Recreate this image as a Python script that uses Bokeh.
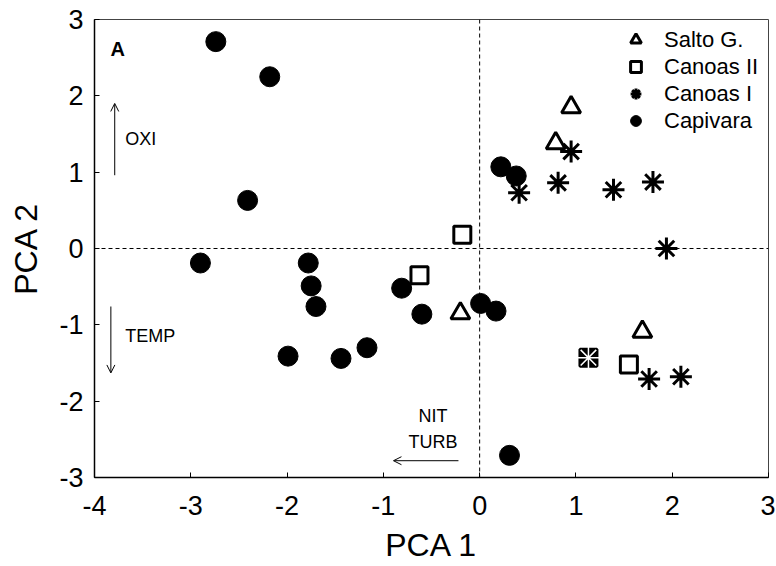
from bokeh.plotting import figure
from bokeh.models import (Range1d, Span, Label, Arrow, OpenHead, Legend, LegendItem,
                          ColumnDataSource)
from bokeh.embed import file_html
from bokeh.resources import INLINE

# ---- data ----
salto_x = [0.95, 0.79, -0.20, 1.69]
salto_y = [1.85, 1.38, -0.85, -1.09]

canoas2_x = [-0.18, -0.625, 1.13, 1.55]
canoas2_y = [0.18, -0.35, -1.43, -1.52]

canoas1_x = [0.95, 0.815, 0.41, 1.39, 1.80, 1.94, 1.13, 1.76, 2.09]
canoas1_y = [1.27, 0.86, 0.73, 0.77, 0.87, 0.00, -1.43, -1.71, -1.68]

capivara_x = [-2.74, -2.18, -2.41, -2.90, -1.78, -1.75, -1.70, -1.99, -1.44,
              -1.17, -0.81, -0.60, 0.01, 0.17, 0.22, 0.38, 0.31]
capivara_y = [2.71, 2.25, 0.63, -0.19, -0.19, -0.49, -0.76, -1.41, -1.44,
              -1.30, -0.52, -0.86, -0.72, -0.82, 1.07, 0.95, -2.71]

x_ticks = [-4, -3, -2, -1, 0, 1, 2, 3]
y_ticks = [-3, -2, -1, 0, 1, 2, 3]

# ---- styles ----
FONT = "Liberation Sans"
# the coincident Canoas II / Canoas I point is drawn inverted (black square, thin white star)
special = [i for i in range(len(canoas2_x)) if canoas2_x[i] == 1.13]
canoas2_fill = ["black" if i in special else "white" for i in range(len(canoas2_x))]
special1 = [i for i in range(len(canoas1_x)) if canoas1_x[i] == 1.13]
canoas1_line = ["white" if i in special1 else "black" for i in range(len(canoas1_x))]
canoas1_lw = [1.5 if i in special1 else 3 for i in range(len(canoas1_x))]

p = figure(width=775, height=565, x_range=Range1d(-4, 3), y_range=Range1d(-3, 3),
           output_backend="svg", toolbar_location=None,
           min_border_left=94, min_border_right=7, min_border_top=19, min_border_bottom=87)

p.xgrid.visible = False
p.ygrid.visible = False
p.outline_line_color = "#444444"
p.outline_line_width = 1
p.background_fill_color = "white"
p.border_fill_color = "white"

for ax in (p.xaxis, p.yaxis):
    ax.major_tick_in = 5
    ax.major_tick_out = 0
    ax.minor_tick_in = 0
    ax.minor_tick_out = 0
    ax.axis_line_color = "black"
    ax.axis_line_width = 1.5
    ax.major_tick_line_color = "black"
    ax.major_label_text_font = FONT
    ax.major_label_text_font_size = "27px"
    ax.major_label_text_color = "black"
    ax.axis_label_text_font = FONT
    ax.axis_label_text_font_size = "32px"
    ax.axis_label_text_font_style = "normal"
    ax.axis_label_text_color = "black"

p.xaxis.ticker = x_ticks
p.yaxis.ticker = y_ticks
p.xaxis.major_label_overrides = {t: str(t) for t in x_ticks}
p.yaxis.major_label_overrides = {t: str(t) for t in y_ticks}
p.xaxis.axis_label = "PCA 1"
p.yaxis.axis_label = "PCA 2"
p.xaxis.major_label_standoff = 18
p.yaxis.major_label_standoff = 11
p.xaxis.axis_label_standoff = 9
p.yaxis.axis_label_standoff = 12

p.add_layout(Span(location=0, dimension="height", line_color="black", line_width=1, line_dash="4 3"))
p.add_layout(Span(location=0, dimension="width", line_color="black", line_width=1, line_dash="4 3"))

r_cap = p.scatter(capivara_x, capivara_y, marker="circle", size=20,
                  fill_color="black", line_color="black")
r_salto = p.scatter(salto_x, salto_y, marker="triangle", size=19,
                    fill_color=None, line_color="black", line_width=3)
src2 = ColumnDataSource(dict(x=canoas2_x, y=canoas2_y, fill=canoas2_fill))
r_c2 = p.scatter("x", "y", source=src2, marker="square", size=17,
                 fill_color="fill", line_color="black", line_width=3)
src1 = ColumnDataSource(dict(x=canoas1_x, y=canoas1_y, lc=canoas1_line, lw=canoas1_lw))
r_c1 = p.scatter("x", "y", source=src1, marker="asterisk", size=22,
                 line_color="lc", line_width="lw")

legend = Legend(items=[
    LegendItem(label="Salto G.", renderers=[r_salto]),
    LegendItem(label="Canoas II", renderers=[r_c2]),
    LegendItem(label="Canoas I", renderers=[r_c1]),
    LegendItem(label="Capivara", renderers=[r_cap]),
], location="top_right")
legend.border_line_color = None
legend.background_fill_alpha = 0
legend.label_text_font = FONT
legend.label_text_font_size = "22px"
legend.label_text_color = "black"
legend.glyph_width = 27
legend.glyph_height = 27
legend.label_height = 27
legend.label_width = 97
legend.label_standoff = 15
legend.spacing = 0
legend.padding = 7
legend.margin = 7
p.add_layout(legend)

# annotations
TXT = dict(text_font=FONT, text_color="black")
p.add_layout(Label(x=-3.76, y=2.62, text="A", text_font_size="20px",
                   text_font_style="bold", text_align="center", text_baseline="middle", **TXT))

p.add_layout(Arrow(end=OpenHead(size=8, line_width=1), x_start=-3.79, y_start=0.96,
                   x_end=-3.79, y_end=1.90, line_width=1))
p.add_layout(Label(x=-3.68, y=1.43, text="OXI", text_font_size="18px",
                   text_baseline="middle", **TXT))

p.add_layout(Arrow(end=OpenHead(size=8, line_width=1), x_start=-3.83, y_start=-0.76,
                   x_end=-3.83, y_end=-1.63, line_width=1))
p.add_layout(Label(x=-3.68, y=-1.15, text="TEMP", text_font_size="18px",
                   text_baseline="middle", **TXT))

p.add_layout(Arrow(end=OpenHead(size=8, line_width=1), x_start=-0.22, y_start=-2.78,
                   x_end=-0.895, y_end=-2.78, line_width=1))
p.add_layout(Label(x=-0.485, y=-2.20, text="NIT", text_font_size="18px",
                   text_align="center", text_baseline="middle", **TXT))
p.add_layout(Label(x=-0.485, y=-2.54, text="TURB", text_font_size="18px",
                   text_align="center", text_baseline="middle", **TXT))

open("out.html", "w").write(file_html(p, INLINE))
